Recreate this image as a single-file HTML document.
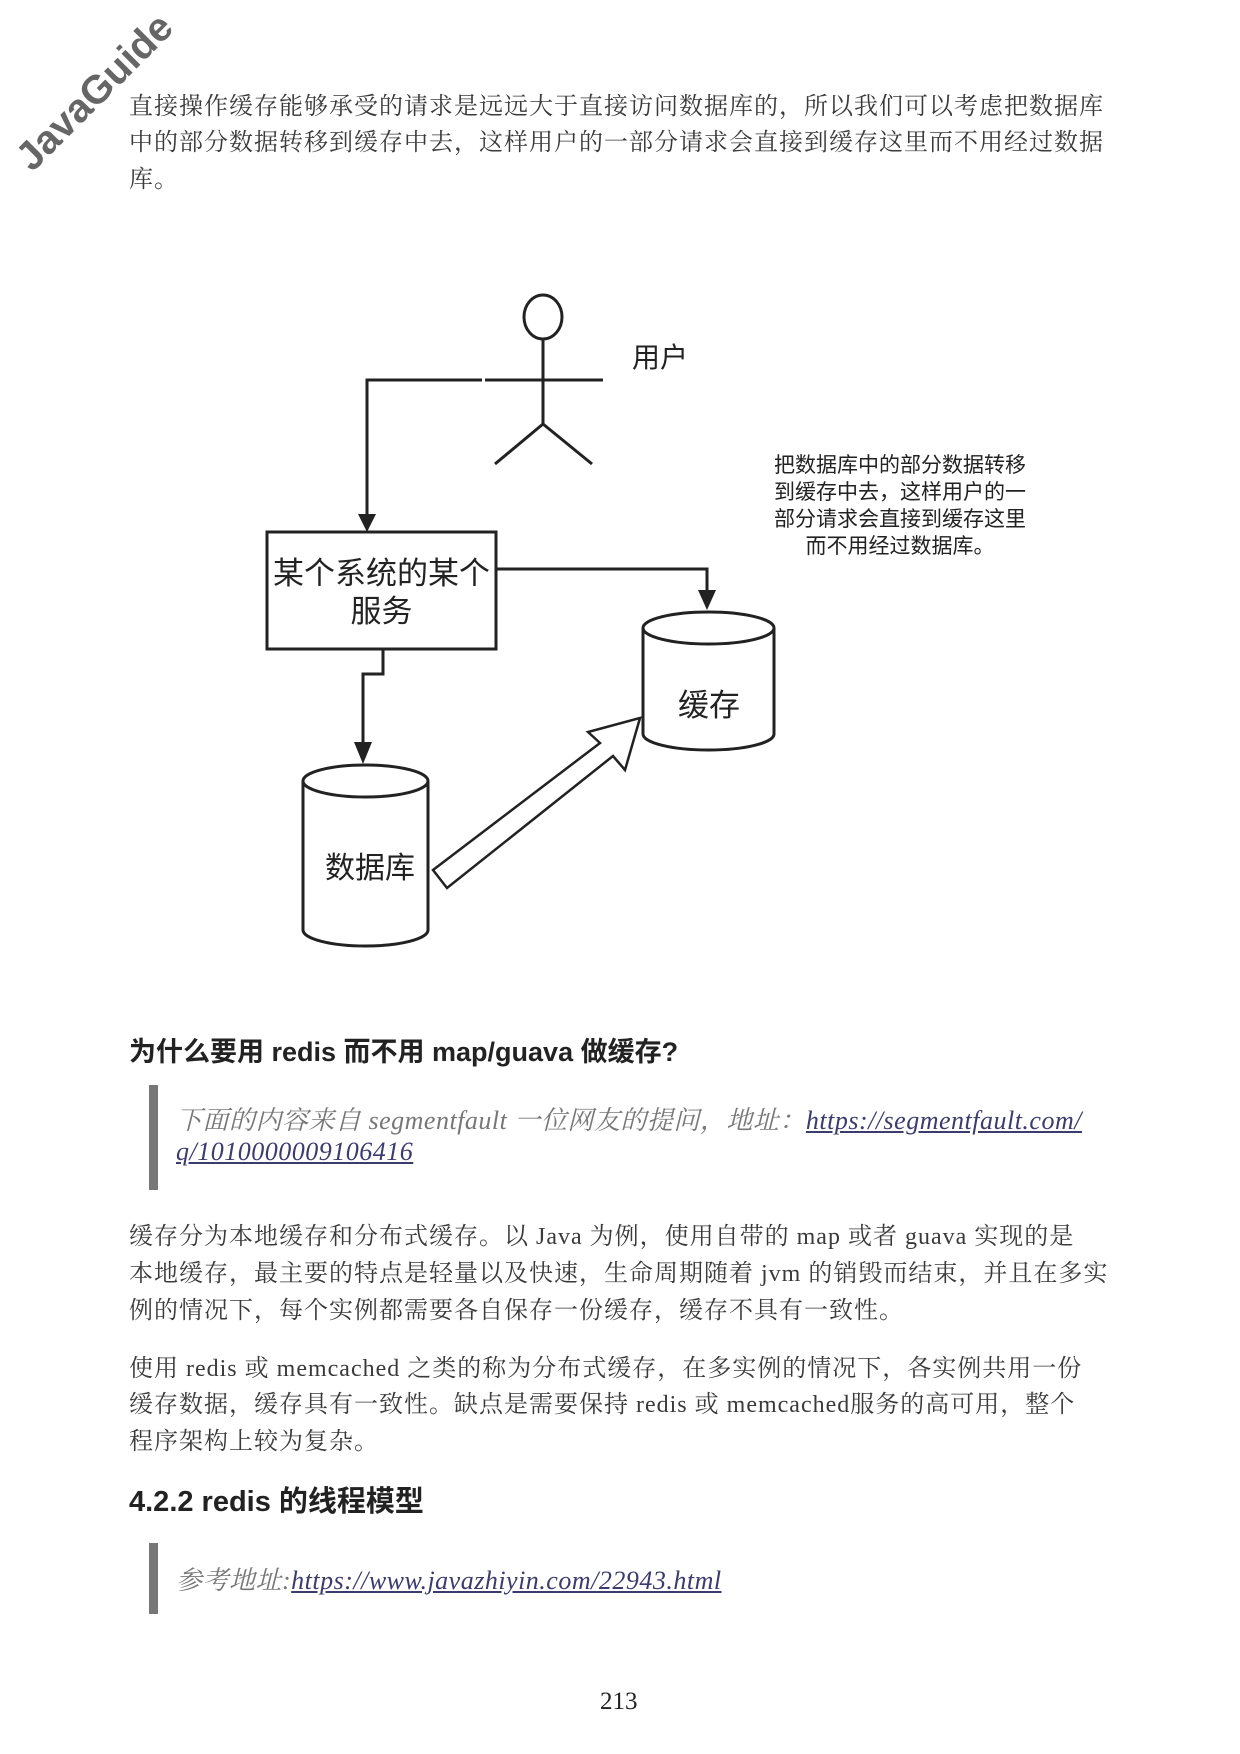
<!DOCTYPE html>
<html><head><meta charset="utf-8"><style>
body{margin:0;width:1240px;height:1754px;background:#fff;position:relative;overflow:hidden;font-family:"Liberation Serif","Noto Serif CJK SC","Noto Sans CJK SC",serif;color:#333}
.t{position:absolute;white-space:nowrap}
.p{font-size:24px;left:129px;color:#3a3a3a;letter-spacing:1px}
.h{font-family:"Liberation Sans","Noto Sans CJK SC",sans-serif;font-weight:bold;color:#222}
.q{font-style:italic;color:#777;font-size:26px;letter-spacing:0.5px}
.q a{color:#3b3b6e;text-decoration:underline}
.bar{position:absolute;left:149px;width:9px;background:#777}
.d{font-family:"Liberation Sans","Noto Sans CJK SC",sans-serif;color:#222}
</style></head><body>
<div class="t h" style="left:-10px;top:70px;width:210px;text-align:center;font-size:40px;color:#666;transform:rotate(-45deg);transform-origin:center;">JavaGuide</div>

<div class="t p" style="top:86px">直接操作缓存能够承受的请求是远远大于直接访问数据库的，所以我们可以考虑把数据库</div>
<div class="t p" style="top:122px">中的部分数据转移到缓存中去，这样用户的一部分请求会直接到缓存这里而不用经过数据</div>
<div class="t p" style="top:159px">库。</div>

<svg style="position:absolute;left:0;top:0" width="1240" height="1000">
<g fill="none" stroke="#222" stroke-width="3">
<ellipse cx="543" cy="317" rx="19" ry="22"/>
<line x1="543" y1="339" x2="543" y2="424"/>
<line x1="485" y1="380" x2="603" y2="380"/>
<line x1="543" y1="424" x2="495" y2="464"/>
<line x1="543" y1="424" x2="592" y2="464"/>
<polyline points="482,380 367,380 367,515"/>
<rect x="267" y="532" width="229" height="117"/>
<polyline points="496,569 707,569 707,590"/>
<polyline points="383,649 383,674 363,674 363,748"/>
<path d="M643,628 L643,734 A65.5,16 0 0 0 774,734 L774,628"/>
<ellipse cx="708.5" cy="628" rx="65.5" ry="16"/>
<path d="M303,781 L303,930 A62.5,16 0 0 0 428,930 L428,781"/>
<ellipse cx="365.5" cy="781" rx="62.5" ry="16"/>
<polygon points="433,870 447,888 613,756 625,770 640,718 588,732 600,743 433,870" stroke-width="2.5"/>
</g>
<g fill="#222">
<polygon points="358,514 376,514 367,532"/>
<polygon points="698,590 716,590 707,610"/>
<polygon points="354,742 372,742 363,764"/>
</g>
</svg>
<div class="t d" style="left:632px;top:336px;font-size:28px">用户</div>
<div class="t d" style="left:267px;top:555px;width:229px;text-align:center;font-size:31px;line-height:38px;white-space:normal">某个系统的某个<br>服务</div>
<div class="t d" style="left:678px;top:680px;font-size:31px">缓存</div>
<div class="t d" style="left:325px;top:843px;font-size:30px">数据库</div>
<div class="t d" style="left:755px;top:452px;width:290px;text-align:center;font-size:21px;line-height:27px;white-space:normal;color:#222">把数据库中的部分数据转移<br>到缓存中去，这样用户的一<br>部分请求会直接到缓存这里<br>而不用经过数据库。</div>

<div class="t h" style="left:129px;top:1030px;font-size:27px">为什么要用 redis 而不用 map/guava 做缓存?</div>
<div class="bar" style="top:1085px;height:105px"></div>
<div class="t q" style="left:176px;top:1100px">下面的内容来自 segmentfault 一位网友的提问，地址：<a>https://segmentfault.com/</a></div>
<div class="t q" style="left:176px;top:1137px"><a>q/1010000009106416</a></div>

<div class="t p" style="top:1216px">缓存分为本地缓存和分布式缓存。以 Java 为例，使用自带的 map 或者 guava 实现的是</div>
<div class="t p" style="top:1253px">本地缓存，最主要的特点是轻量以及快速，生命周期随着 jvm 的销毁而结束，并且在多实</div>
<div class="t p" style="top:1290px">例的情况下，每个实例都需要各自保存一份缓存，缓存不具有一致性。</div>
<div class="t p" style="top:1348px">使用 redis 或 memcached 之类的称为分布式缓存，在多实例的情况下，各实例共用一份</div>
<div class="t p" style="top:1384px">缓存数据，缓存具有一致性。缺点是需要保持 redis 或 memcached服务的高可用，整个</div>
<div class="t p" style="top:1421px">程序架构上较为复杂。</div>

<div class="t h" style="left:129px;top:1478px;font-size:29px">4.2.2 redis 的线程模型</div>
<div class="bar" style="top:1543px;height:71px"></div>
<div class="t q" style="left:176px;top:1560px">参考地址:<a>https://www.javazhiyin.com/22943.html</a></div>

<div class="t" style="left:600px;top:1688px;font-size:25px;color:#222">213</div>
</body></html>
